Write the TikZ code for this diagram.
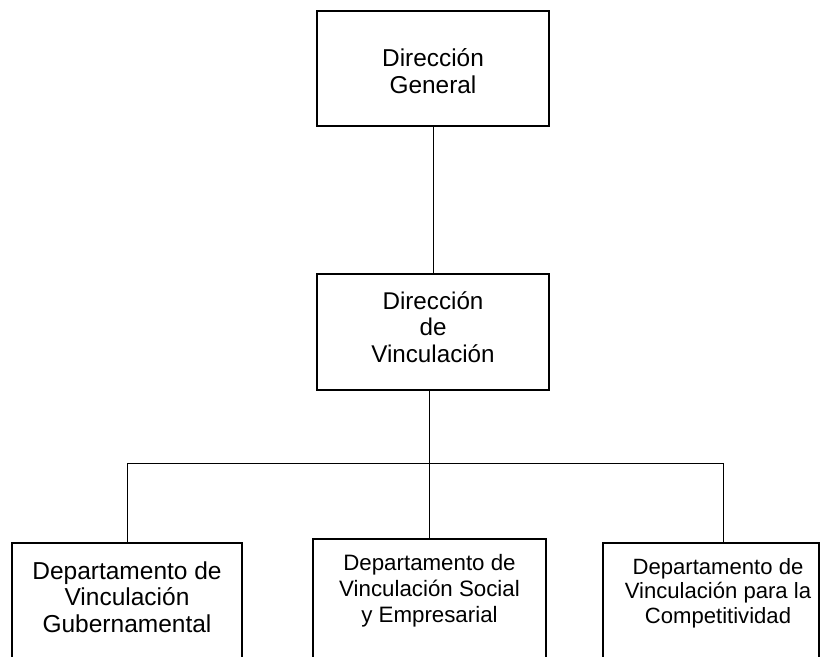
\documentclass[tikz,border=0pt]{standalone}
\usepackage{fontspec}
\setmainfont{Liberation Sans}
\begin{document}
\begin{tikzpicture}[x=1pt,y=-1pt,
  box/.style={draw, line width=1.5pt, rectangle, inner sep=0pt},
  conn/.style={draw, line width=1pt},
  lbl/.style={align=center, inner sep=0pt}]
\useasboundingbox (0,0) rectangle (822,656);
\clip (0,0) rectangle (822,656);
% boxes
\node[box, minimum width=232pt, minimum height=115pt] (dg) at (433,68.5) {};
\node[box, minimum width=232pt, minimum height=116pt] (dv) at (433,332) {};
\node[box, minimum width=230pt, minimum height=162pt] (dgub) at (127,624) {};
\node[box, minimum width=233pt, minimum height=166pt] (dsoc) at (429.5,622) {};
\node[box, minimum width=216pt, minimum height=162pt] (dcomp) at (711,624) {};
% labels
\node[lbl, font=\fontsize{24.4}{27}\selectfont] (tdg) at (433,71) {Dirección\\General};
\node[lbl, font=\fontsize{24.2}{26.5}\selectfont] (tdv) at (433,327) {Dirección\\de\\Vinculación};
\node[lbl, font=\fontsize{24.5}{26.5}\selectfont] (tgub) at (127,597) {Departamento de\\Vinculación\\Gubernamental};
\node[lbl, font=\fontsize{22.3}{26}\selectfont] (tsoc) at (429.5,591) {Departamento de\\Vinculación Social\\y Empresarial};
\node[lbl, font=\fontsize{22.1}{24.5}\selectfont] (tcomp) at (718,593) {Departamento de\\Vinculación para la\\Competitividad};
% connectors
\coordinate (bus) at (430,463);
\coordinate (rj) at (723,463);
\draw[conn] (dg.south) -- (dv.north);
\draw[conn] (dv.south -| dsoc.north) -- (dsoc.north);
\draw[conn] (dgub.north) -- (dgub.north |- bus) -- (rj) -- (rj |- dcomp.north);
\end{tikzpicture}
\end{document}
